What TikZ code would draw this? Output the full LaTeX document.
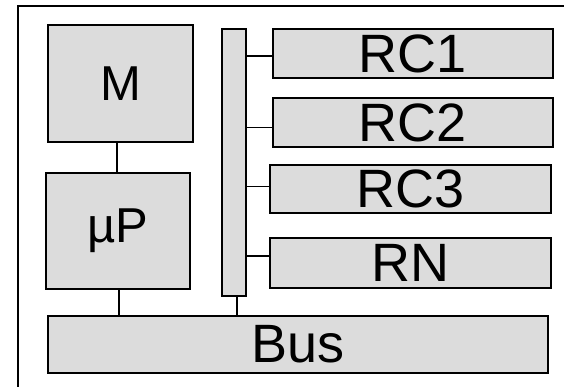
\documentclass[tikz,border=0pt]{standalone}
\usepackage{fontspec}
\setmainfont{Liberation Sans}
\definecolor{boxfill}{RGB}{220,220,220}
\begin{document}
\begin{tikzpicture}[x=1pt,y=-1pt,
  blk/.style={draw=black,fill=boxfill,line width=2pt,inner sep=0pt,outer sep=0pt,anchor=north west},
  bigtxt/.style={font=\fontsize{54}{54}\selectfont},
  midtxt/.style={font=\fontsize{49}{49}\selectfont},
  wire/.style={draw=black,line width=1.4pt}]
\useasboundingbox (0,0) rectangle (564,387);
\clip (0,0) rectangle (564,387);
\draw[line width=2pt] (18,6) rectangle (620,440);
\node[blk,midtxt,minimum width=145pt,minimum height=117pt] (M) at (48,25) {M};
\node[blk,midtxt,minimum width=144pt,minimum height=116pt] (uP) at (46,173) {µP};
\node[blk,bigtxt,minimum width=500pt,minimum height=57pt] (Bus) at (48,316) {Bus};
\node[blk,minimum width=24pt,minimum height=267pt] (bar) at (222,29) {};
\node[blk,bigtxt,minimum width=280pt,minimum height=49pt] (RC1) at (273,29) {RC1};
\node[blk,bigtxt,minimum width=280pt,minimum height=49pt] (RC2) at (273,98) {RC2};
\node[blk,bigtxt,minimum width=281pt,minimum height=48pt] (RC3) at (270,165) {RC3};
\node[blk,bigtxt,minimum width=281pt,minimum height=50pt] (RN) at (270,238) {RN};
\draw[wire] ([xshift=-3.5pt]M.south) -- ([xshift=-3.5pt]M.south |- uP.north);
\draw[wire] ([xshift=1pt]uP.south) -- ([xshift=1pt]uP.south |- Bus.north);
\draw[wire] ([xshift=3pt]bar.south) -- ([xshift=3pt]bar.south |- Bus.north);
\draw[wire] ([yshift=-2.5pt]RC1.west) -- ([yshift=-2.5pt]RC1.west -| bar.east);
\draw[wire] ([yshift=-4.8pt]RC2.west) -- ([yshift=-4.8pt]RC2.west -| bar.east);
\draw[wire] ([yshift=2.3pt]RC3.west) -- ([yshift=2.3pt]RC3.west -| bar.east);
\draw[wire] ([yshift=7pt]RN.west) -- ([yshift=7pt]RN.west -| bar.east);
\end{tikzpicture}
\end{document}
